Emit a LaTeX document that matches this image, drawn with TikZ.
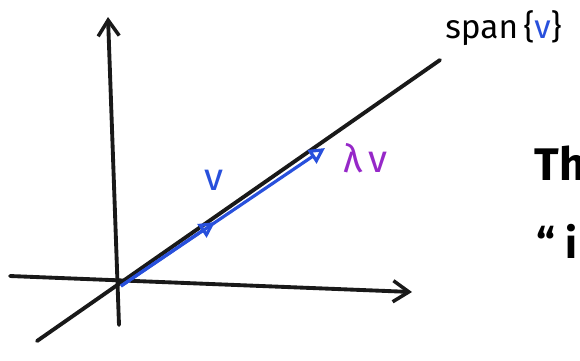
\documentclass[tikz,border=0pt]{standalone}
\usepackage{fontspec}
\setsansfont{Fira Sans}
\usetikzlibrary{arrows.meta, positioning, calc}
\definecolor{penblue}{RGB}{40,80,220}
\definecolor{penpurple}{RGB}{150,40,200}

\begin{document}
\begin{tikzpicture}[
  x=0.02cm, y=-0.02cm,
  pen/.style={line width=2.2pt, line cap=round, black!90},
  axis/.style={pen, -{Straight Barb[length=9pt, width=12pt, line width=2pt]}},
  vec/.style={line width=1.8pt, penblue, -{Triangle[open, length=9pt, width=9pt, line width=1.8pt]}},
  lbl/.style={font=\sffamily\fontsize{#1}{#1}\selectfont, inner sep=0pt, anchor=base west},
  lbl/.default=20pt,
]
  \useasboundingbox (0,0) rectangle (580,360);
  \clip (0,0) rectangle (580,360);

  % axes and the line
  \coordinate (O)    at (117,281);
  \coordinate (xl)   at (10,276);
  \coordinate (xr)   at (412,292);
  \coordinate (yb)   at (119,325);
  \coordinate (yt)   at (108,17);
  \coordinate (sb)   at (37,341);
  \coordinate (st)   at (440,60);
  \coordinate (vtip) at (215,222);
  \coordinate (ltip) at (325,148);

  \draw[axis] (xl) -- (xr);
  \draw[axis] (yb) -- (yt);
  \draw[pen] (sb) -- (st);

  % vectors on the line
  \draw[vec] ($(O)+(4,5)$) -- (ltip);
  \draw[vec] ($(O)+(4,5)$) -- (vtip);

  % labels
  \node[lbl=22pt, penblue] (vlbl) at (204,190) {v};
  \node[lbl=22pt, penpurple] (llbl) at (343,172) {λ\,v};
  \node[lbl=19pt] (span) at (445,38) {span\,\{\textcolor{penblue}{v}\}};
  \node[lbl=26pt] (th) at (534,180) {\bfseries Th};
  \node[lbl=24pt] (quote) at (536,258) {\bfseries “ i};
\end{tikzpicture}
\end{document}
